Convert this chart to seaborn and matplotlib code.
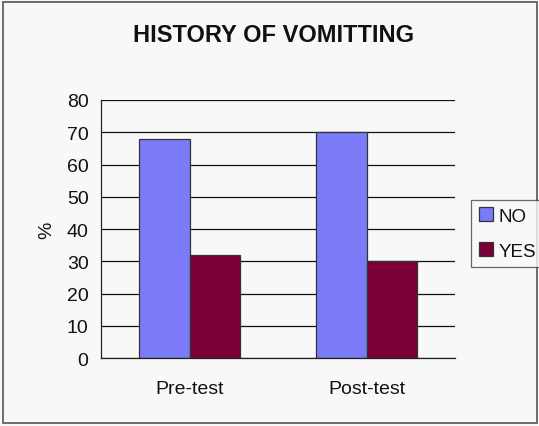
import pandas as pd
import seaborn as sns
import matplotlib.pyplot as plt
from matplotlib.patches import Rectangle
from matplotlib.ticker import FixedLocator

# Data
stages = ["Pre-test", "Post-test"]
answers = ["NO", "YES"]
no_values = [68, 70]
yes_values = [32, 30]

bar_colors = {"NO": "#7b7bf7", "YES": "#7b0037"}

plot_df = pd.DataFrame({
    "stage": stages * 2,
    "answer": ["NO"] * len(stages) + ["YES"] * len(stages),
    "value": no_values + yes_values
})

sns.set_style("white")
plt.rcParams["font.family"] = ["Liberation Sans", "DejaVu Sans"]
plt.rcParams["text.color"] = "#111111"

bg = "#f8f8f8"
fig = plt.figure(figsize=(5.39, 4.27), dpi=100, facecolor=bg)
ax = fig.add_axes([0.1874, 0.159, 0.6568, 0.6045])
ax.set_facecolor(bg)

sns.barplot(
    data=plot_df,
    x="stage",
    y="value",
    hue="answer",
    hue_order=answers,
    palette=bar_colors,
    width=0.57,
    edgecolor="#333333",
    linewidth=0.9,
    saturation=1,
    ax=ax
)

ax.set_xlim(-0.5, 1.5)
ax.set_ylim(0, 80)
ax.set_yticks(range(0, 81, 10))
ax.yaxis.grid(True, color="#111111", linewidth=0.9)
ax.set_axisbelow(True)

for side in ["top", "right"]:
    ax.spines[side].set_visible(False)
for side in ["left", "bottom"]:
    ax.spines[side].set_color("#222222")
    ax.spines[side].set_linewidth(0.9)

ax.tick_params(axis="y", which="major", direction="out", length=6,
               width=0.9, color="#222222", labelsize=14, pad=3,
               labelcolor="#111111")
ax.tick_params(axis="x", which="major", length=0, labelsize=14, pad=16,
               labelcolor="#111111")
ax.xaxis.set_minor_locator(FixedLocator([-0.5, 0.5, 1.5]))
ax.tick_params(axis="x", which="minor", direction="out", length=5,
               width=0.9, color="#222222")

ax.set_xlabel("")
ax.set_ylabel("%", fontsize=14, labelpad=8, color="#111111")

fig.text(0.508, 0.918, "HISTORY OF VOMITTING", ha="center", va="center",
         fontsize=17, fontweight="bold")

handles, labels = ax.get_legend_handles_labels()
ax.get_legend().remove()
leg = fig.legend(
    handles, labels,
    loc="upper left",
    bbox_to_anchor=(0.874, 0.53),
    bbox_transform=fig.transFigure,
    frameon=True,
    fancybox=False,
    edgecolor="#444444",
    facecolor=bg,
    fontsize=13.5,
    handlelength=0.75,
    handleheight=0.75,
    handletextpad=0.3,
    labelspacing=0.95,
    borderpad=0.4,
    borderaxespad=0
)
leg.get_frame().set_linewidth(0.9)

# chart border
fig.patches.append(Rectangle((0.006, 0.008), 0.99, 0.985, transform=fig.transFigure,
                             fill=False, edgecolor="#555555", linewidth=1.2))

plt.savefig("out.png", dpi=100, facecolor=bg)
plt.close()
